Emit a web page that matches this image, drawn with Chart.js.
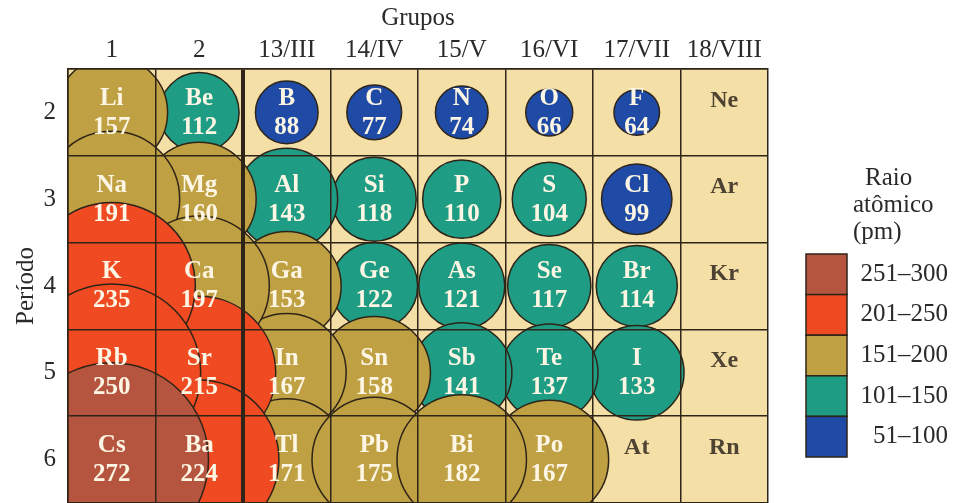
<!DOCTYPE html>
<html>
<head>
<meta charset="utf-8">
<script src="https://cdn.jsdelivr.net/npm/chart.js@4"></script>
<style>
  html, body { margin: 0; padding: 0; background: #fff; }
  #wrap { width: 957px; height: 503px; }
</style>
</head>
<body>
<div id="wrap"><canvas id="myChart"></canvas></div>
<script>
// groups (columns) and periods (rows)
const groups = ["1", "2", "13/III", "14/IV", "15/V", "16/VI", "17/VII", "18/VIII"];
const periods = ["2", "3", "4", "5", "6"];

// element symbols per period
const symbols2 = ["Li", "Be", "B", "C", "N", "O", "F", "Ne"];
const symbols3 = ["Na", "Mg", "Al", "Si", "P", "S", "Cl", "Ar"];
const symbols4 = ["K", "Ca", "Ga", "Ge", "As", "Se", "Br", "Kr"];
const symbols5 = ["Rb", "Sr", "In", "Sn", "Sb", "Te", "I", "Xe"];
const symbols6 = ["Cs", "Ba", "Tl", "Pb", "Bi", "Po", "At", "Rn"];

// atomic radius (pm) per period, null = no value shown
const radii2 = [157, 112, 88, 77, 74, 66, 64, null];
const radii3 = [191, 160, 143, 118, 110, 104, 99, null];
const radii4 = [235, 197, 153, 122, 121, 117, 114, null];
const radii5 = [250, 215, 167, 158, 141, 137, 133, null];
const radii6 = [272, 224, 171, 175, 182, 167, null, null];

// legend ranges
const rangeLabels = ["251–300", "201–250", "151–200", "101–150", "51–100"];
const rangeMins = [251, 201, 151, 101, 51];
const rangeColors = ["#b5553f", "#f04a22", "#bfa043", "#1f9c84", "#1f4ba6"];

const symbolRows = [symbols2, symbols3, symbols4, symbols5, symbols6];
const radiusRows = [radii2, radii3, radii4, radii5, radii6];

const SERIF = "'Liberation Serif', 'DejaVu Serif', serif";
const BG = "#f4dfa7";
const LINE = "#2e2418";

function colorFor(v) {
  for (let i = 0; i < rangeMins.length; i++) {
    if (v >= rangeMins[i]) return rangeColors[i];
  }
  return rangeColors[rangeColors.length - 1];
}

// build points, smaller ones first so big atoms are painted on top
let points = [];
let empties = [];
periods.forEach(function(p, row) {
  groups.forEach(function(g, col) {
    const v = radiusRows[row][col];
    const s = symbolRows[row][col];
    if (v == null) empties.push({x: g, y: p, sym: s});
    else points.push({x: g, y: p, v: v, sym: s});
  });
});
points.sort(function(a, b) { return a.v - b.v; });

const labelPlugin = {
  id: "cellLabels",
  beforeDraw: function(chart) {
    const a = chart.chartArea;
    const c = chart.ctx;
    c.save();
    c.fillStyle = BG;
    c.fillRect(a.left, a.top, a.right - a.left, a.bottom - a.top);
    c.restore();
  },
  afterDatasetsDraw: function(chart) {
    const c = chart.ctx;
    const meta = chart.getDatasetMeta(0);
    c.save();
    c.textAlign = "center";
    c.textBaseline = "middle";
    c.fillStyle = "#fdf6e4";
    c.font = "bold 25px " + SERIF;
    meta.data.forEach(function(el, i) {
      const d = points[i];
      c.fillText(d.sym, el.x, el.y - 14);
      c.fillText(String(d.v), el.x, el.y + 15);
    });
    c.fillStyle = "#4e4232";
    c.font = "bold 24px " + SERIF;
    empties.forEach(function(d) {
      const x = chart.scales.x.getPixelForValue(groups.indexOf(d.x));
      const y = chart.scales.y.getPixelForValue(periods.indexOf(d.y));
      c.fillText(d.sym, x, y - 12);
    });
    c.restore();
  },
  afterDraw: function(chart) {
    const c = chart.ctx;
    c.save();
    c.fillStyle = "#2a2a2a";
    c.font = "25px " + SERIF;
    c.textBaseline = "middle";
    c.textAlign = "left";
    c.fillText("Raio", 865, 178);
    c.fillText("atômico", 853, 205);
    c.fillText("(pm)", 853, 232);
    const bx = 806, bw = 41, top = 254, bh = 40.6;
    rangeLabels.forEach(function(lab, i) {
      const y = top + i * bh;
      c.fillStyle = rangeColors[i];
      c.fillRect(bx, y, bw, bh);
      c.strokeStyle = LINE;
      c.lineWidth = 1.5;
      c.strokeRect(bx, y, bw, bh);
      c.fillStyle = "#2a2a2a";
      c.textAlign = "right";
      c.fillText(lab, 948, y + bh / 2);
    });
    c.restore();
  }
};

new Chart("myChart", {
  type: "bubble",
  data: {
    datasets: [{
      data: points,
      radius: function(ctx) {
        const d = points[ctx.dataIndex];
        const cell = ctx.chart.chartArea ? (ctx.chart.chartArea.right - ctx.chart.chartArea.left) / groups.length : 87.5;
        return d ? d.v * cell / 246 : 0;
      },
      backgroundColor: function(ctx) {
        const d = points[ctx.dataIndex];
        return d ? colorFor(d.v) : "#000";
      },
      borderColor: LINE,
      borderWidth: 1.5,
      clip: 0
    }]
  },
  options: {
    responsive: true,
    maintainAspectRatio: false,
    animation: false,
    events: [],
    layout: { autoPadding: false, padding: { left: 0, right: 189, top: 0, bottom: 0 } },
    plugins: {
      legend: { display: false },
      tooltip: { enabled: false }
    },
    scales: {
      x: {
        type: "category",
        labels: groups,
        position: "top",
        offset: true,
        afterFit: function(s) { s.height = 69; s.paddingLeft = 0; s.paddingRight = 0; },
        grid: {
          offset: true,
          z: 1,
          color: LINE,
          drawTicks: false,
          lineWidth: function(ctx) { return ctx.index === 2 ? 4 : 1.5; }
        },
        border: { display: true, z: 1, color: LINE, width: 1.5 },
        ticks: { color: "#2a2a2a", font: { family: SERIF, size: 25 }, padding: 4 },
        title: {
          display: true,
          text: "Grupos",
          color: "#2a2a2a",
          font: { family: SERIF, size: 25 },
          padding: { top: 3, bottom: 3 }
        }
      },
      y: {
        type: "category",
        labels: periods,
        offset: true,
        afterFit: function(s) { s.width = 68; s.paddingTop = 0; s.paddingBottom = 0; },
        grid: {
          offset: true,
          z: 1,
          color: LINE,
          drawTicks: false,
          lineWidth: 1.5
        },
        border: { display: true, z: 1, color: LINE, width: 1.5 },
        ticks: { color: "#2a2a2a", font: { family: SERIF, size: 25 }, padding: 12 },
        title: {
          display: true,
          text: "Período",
          color: "#2a2a2a",
          font: { family: SERIF, size: 25 },
          padding: { top: 11, bottom: 3 }
        }
      }
    }
  },
  plugins: [labelPlugin]
});
</script>
</body>
</html>
